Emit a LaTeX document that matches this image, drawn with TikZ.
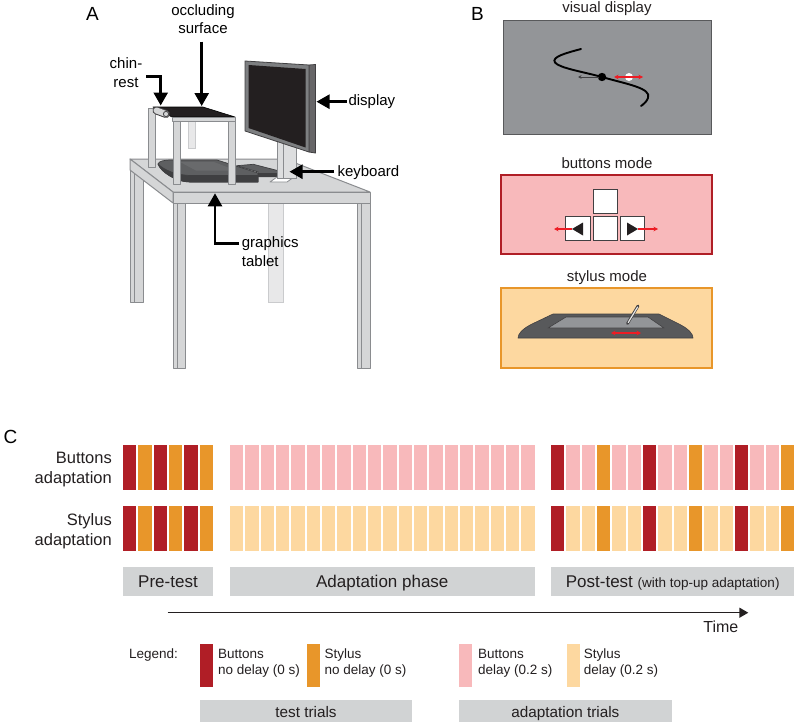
\documentclass[tikz,border=0pt]{standalone}
\usepackage{fontspec}
\setmainfont{Liberation Sans}
\usetikzlibrary{arrows.meta}
\definecolor{txt}{HTML}{231F20}
\definecolor{dred}{HTML}{B01E26}
\definecolor{dorange}{HTML}{E8962A}
\definecolor{lpink}{HTML}{F8B9BB}
\definecolor{lorange}{HTML}{FDD8A0}
\definecolor{phasegray}{HTML}{D1D3D4}
\definecolor{screengray}{HTML}{939598}
\definecolor{tablefill}{HTML}{D5D6D7}
\definecolor{tableline}{HTML}{8A8C8F}
\definecolor{darkgray}{HTML}{58595B}
\definecolor{keyline}{HTML}{414042}
\definecolor{redarrow}{HTML}{ED1C24}
\definecolor{tabtop}{HTML}{5E5F61}
\definecolor{tabfront}{HTML}{3F3F41}
\begin{document}
\begin{tikzpicture}[x=1pt,y=-1pt,
  lab/.style={inner sep=0pt, text=black, font=\fontsize{15}{18}\selectfont},
  pletter/.style={inner sep=0pt, anchor=base, text=black, font=\fontsize{19}{22}\selectfont},
  bigarrow/.style={line width=2.6pt, -{Triangle[length=13pt,width=14pt]}},
  rowlab/.style={inner sep=0pt, anchor=east, align=right, text=txt, font=\fontsize{16.5}{20}\selectfont},
  phasebox/.style={fill=phasegray, inner sep=0pt, minimum height=29pt, text height=12.2pt, text depth=0pt, text=txt, font=\fontsize{17}{20}\selectfont},
  trialbox/.style={fill=phasegray, inner sep=0pt, minimum height=21.7pt, text height=12.5pt, text depth=0pt, text=txt, font=\fontsize{15.3}{18}\selectfont},
  legtxt/.style={inner sep=0pt, anchor=base west, text=txt, font=\fontsize{13.5}{16}\selectfont},
  btitle/.style={inner sep=0pt, anchor=base, text=txt, font=\fontsize{15}{18}\selectfont},
  keybox/.style={draw=keyline, fill=white, line width=0.9pt, minimum size=24.5pt, inner sep=0pt},
  redline/.style={draw=redarrow, line width=1.1pt},
  tbl/.style={fill=tablefill, draw=tableline, line width=1pt, line join=round},
  tblback/.style={fill=tablefill!55!white, draw=tableline!45!white, line width=1pt},
]
\useasboundingbox (0,0) rectangle (797,725);

% ---------------- panel letters ----------------
\node[pletter] (pA) at (92.5,20.7) {A};
\node[pletter] (pB) at (477.5,21) {B};
\node[pletter] (pC) at (10.5,443.5) {C};

% ---------------- panel A: table ----------------
\filldraw[tblback] (268,170) rectangle (283,302);
\filldraw[tbl] (130,167) rectangle (143,302);
\draw[tableline, line width=1pt] (134,170) -- (134,302);
\filldraw[tbl] (130,159) -- (285,159) -- (370,192) -- (173,192) -- cycle;
\filldraw[tbl] (173,192) rectangle (370,203);
\filldraw[tbl] (130,159) -- (173,192) -- (173,203) -- (130,170) -- cycle;
\filldraw[tbl] (173,203) rectangle (185,368);
\draw[tableline, line width=1pt] (177.5,203) -- (177.5,368);
\filldraw[tbl] (357,203) rectangle (370,368);
\draw[tableline, line width=1pt] (361.5,203) -- (361.5,368);

% frame back legs
\filldraw[tbl] (148,108) rectangle (155,167);
\filldraw[tblback] (188,121) rectangle (195,148);

% graphics tablet
\filldraw[fill=tabtop, draw=tabfront, line width=0.7pt, line join=round]
  (158,164) .. controls (159,161) and (164,160) .. (172,160) -- (217,160) -- (258,173) -- (258,182) -- (190,182)
  .. controls (176,182) and (161,172) .. (158,164) -- cycle;
\fill[tabtop!93!white] (180,162) -- (214,162) -- (236,170.5) -- (196,170.5) -- cycle;
\filldraw[fill=tabfront, draw=tabfront, line width=0.7pt, line join=round]
  (158,164) .. controls (164,170) and (176,175.5) .. (192,175.5) -- (258,175.5) -- (258,182) -- (190,182)
  .. controls (176,182) and (161,172) .. (158,164) -- cycle;
% keyboard
\filldraw[fill=tabtop, draw=tabfront, line width=0.7pt, line join=round]
  (236.7,165.7) -- (253.3,164.3) -- (288.3,173.3) -- (288.3,176.7) -- (258.3,176.7) -- (258.3,172) -- cycle;
\fill[tabfront] (258.3,173.3) rectangle (288.3,176.7);

% monitor stand
\filldraw[fill=white, draw=tableline, line width=0.8pt, line join=round] (270,182) -- (277,177) -- (294,177) -- (287,182) -- cycle;
\filldraw[fill=tablefill!80!white, draw=tableline, line width=1pt] (277,138) rectangle (296,178);
\draw[tableline, line width=0.8pt] (283,138) -- (283,178);
% monitor
\filldraw[fill=keyline!80!white, draw=keyline, line width=0.8pt, line join=round] (309,65) -- (315.5,64.5) -- (315.5,153) -- (309,152) -- cycle;
\filldraw[fill=screengray!85!black, draw=keyline, line width=0.8pt, line join=round] (245,61) -- (309,65) -- (309,152) -- (245,131) -- cycle;
\fill[txt] (248.5,65) -- (305.5,69) -- (305.5,147.5) -- (248.5,128) -- cycle;

% frame top and front legs
\filldraw[fill=txt, draw=black, line width=0.6pt, line join=round] (153,107) -- (203,107) -- (235,117) -- (172,117) -- cycle;
\filldraw[tbl] (172,117) rectangle (235,121);
\filldraw[tbl] (173,121) rectangle (180,184);
\filldraw[tbl] (228,121) rectangle (235,184);
% chin rest
\draw[line width=8pt, line cap=round, draw=keyline] (156.5,110.5) -- (166,114);
\draw[line width=6pt, line cap=round, draw=tablefill] (156.5,110.5) -- (166,114);
\draw[keyline, line width=0.8pt] (166,114) circle (2.6pt);

% labels panel A
\node[lab, anchor=base] (occ1) at (203,16) {occluding};
\node[lab, anchor=base] (occ2) at (203,33.5) {surface};
\node[lab, anchor=base] (chin1) at (126,68.5) {chin-};
\node[lab, anchor=base] (chin2) at (126,87) {rest};
\node[lab, anchor=base west] (disp) at (348.3,105.6) {display};
\node[lab, anchor=base west] (kbd) at (337.3,176) {keyboard};
\node[lab, anchor=base west] (gt1) at (241.7,247.7) {graphics};
\node[lab, anchor=base west] (gt2) at (241.7,266) {tablet};

\coordinate (occS) at (201.7,41.7);
\coordinate (occE) at (201.7,106);
\coordinate (chinS) at (146,76.7);
\coordinate (chinE) at (160.7,105.5);
\coordinate (dispS) at (346.7,101.7);
\coordinate (dispE) at (316.5,101.7);
\coordinate (kbdS) at (334,171.7);
\coordinate (kbdE) at (289.5,171.7);
\coordinate (gtS) at (239,243.3);
\coordinate (gtE) at (215,193.3);
\draw[bigarrow] (occS) -- (occE);
\draw[bigarrow] (chinS) -| (chinE);
\draw[bigarrow] (dispS) -- (dispE);
\draw[bigarrow] (kbdS) -- (kbdE);
\draw[bigarrow] (gtS) -| (gtE);

% ---------------- panel B ----------------
\node[btitle] (vdt) at (607,12.5) {visual display};
\node[draw=darkgray, fill=screengray, line width=0.8pt, minimum width=208pt, minimum height=114pt, inner sep=0pt] (vdbox) at (607,77) {};
\draw[line width=1.9pt, line cap=round, black]
  (581,49) .. controls (566,53) and (551,57) .. (555,62.5)
  .. controls (559,68) and (584,72) .. (602,77)
  .. controls (626,84) and (652,88) .. (648,98)
  .. controls (647,101) and (644,104) .. (641,106);
\fill[black] (602,77) circle (4.2pt);
\draw[line width=0.9pt, keyline, -{Stealth[length=3.5pt,width=3.5pt]}] (599,77) -- (578,77);
\fill[white] (629,77) circle (4pt);
\draw[redline, {Stealth[length=4.5pt,width=4.5pt]}-{Stealth[length=4.5pt,width=4.5pt]}] (614,77) -- (643,77);

\node[btitle] (bmt) at (607,168.3) {buttons mode};
\node[draw=dred, fill=lpink, line width=1.3pt, minimum width=211pt, minimum height=79pt, inner sep=0pt] (bmbox) at (606.5,214.5) {};
\node[keybox] (kup) at (605.5,201.5) {};
\node[keybox] (kleft) at (578,228.5) {};
\node[keybox] (kmid) at (605.5,228.5) {};
\node[keybox] (kright) at (632.5,228.5) {};
\fill[txt] (572,229) -- (583,222.5) -- (583,235.5) -- cycle;
\fill[txt] (638,229) -- (627,222.5) -- (627,235.5) -- cycle;
\coordinate (laS) at (572,229);
\coordinate (laE) at (554,229);
\coordinate (raS) at (638,229);
\coordinate (raE) at (658,229);
\draw[redline, -{Stealth[length=4.5pt,width=4.5pt]}] (laS) -- (laE);
\draw[redline, -{Stealth[length=4.5pt,width=4.5pt]}] (raS) -- (raE);

\node[btitle] (smt) at (607,281) {stylus mode};
\node[draw=dorange, fill=lorange, line width=1.3pt, minimum width=211pt, minimum height=80pt, inner sep=0pt] (smbox) at (606.5,328) {};
\filldraw[fill=darkgray, draw=keyline, line width=0.6pt, line join=round]
  (553,314) -- (659,314) -- (679,324) .. controls (689,329) and (693,334) .. (693,338)
  -- (518,338) .. controls (518,334) and (522,329) .. (532,324) -- cycle;
\filldraw[fill=screengray, draw=keyline, line width=0.6pt, line join=round]
  (566,317) -- (648,317) -- (664,328) -- (548,328) -- cycle;
\draw[line width=2.8pt, draw=keyline, line cap=round] (638,306) -- (627.5,323.5);
\draw[line width=1.2pt, draw=white!80!gray, line cap=round] (637.6,307) -- (628.2,322.5);
\coordinate (saS) at (611,333);
\coordinate (saE) at (641,333);
\draw[redline, {Stealth[length=4.5pt,width=4.5pt]}-{Stealth[length=4.5pt,width=4.5pt]}] (saS) -- (saE);

% ---------------- panel C ----------------
\node[rowlab] (rowB) at (112,469.2) {Buttons\\adaptation};
\node[rowlab] (rowS) at (112,530.8) {Stylus\\adaptation};

\foreach \c [count=\i from 0] in {dred,dorange,dred,dorange,dred,dorange} {
  \fill[\c] ({123+15.33*\i},445) rectangle ++(13.33,44.5);
  \fill[\c] ({123+15.33*\i},506) rectangle ++(13.33,44.5);
}
\foreach \i in {0,...,19} {
  \fill[lpink] ({230+15.33*\i},445) rectangle ++(13.33,44.5);
  \fill[lorange] ({230+15.33*\i},506) rectangle ++(13.33,44.5);
}
\foreach \c [count=\i from 0] in {dred,lpink,lpink,dorange,lpink,lpink,dred,lpink,lpink,dorange,lpink,lpink,dred,lpink,lpink,dorange} {
  \fill[\c] ({551+15.33*\i},445) rectangle ++(13.33,44.5);
}
\foreach \c [count=\i from 0] in {dred,lorange,lorange,dorange,lorange,lorange,dred,lorange,lorange,dorange,lorange,lorange,dred,lorange,lorange,dorange} {
  \fill[\c] ({551+15.33*\i},506) rectangle ++(13.33,44.5);
}

\node[phasebox, minimum width=90pt] (pre) at (168,581.5) {Pre-test};
\node[phasebox, minimum width=304.6pt] (adapt) at (382.3,581.5) {Adaptation phase};
\node[phasebox, minimum width=243.3pt] (post) at (672.7,581.5) {Post-test {\fontsize{13.5}{16}\selectfont(with top-up adaptation)}};

\coordinate (tS) at (167.6,612.7);
\coordinate (tE) at (748.3,612.7);
\draw[line width=1.5pt, txt, -{Triangle[length=9pt,width=10pt]}] (tS) -- (tE);
\node[inner sep=0pt, anchor=base, text=txt, font=\fontsize{16}{18}\selectfont] (time) at (720.8,632.7) {Time};

\node[legtxt] (leg) at (128.9,658) {Legend:};
\fill[dred] (200,644) rectangle (213.3,687);
\fill[dorange] (306.7,644) rectangle (320,687);
\fill[lpink] (459.1,644) rectangle (472.4,687);
\fill[lorange] (566.7,644) rectangle (580,687);
\node[legtxt] (l1a) at (217.8,658) {Buttons};
\node[legtxt] (l1b) at (217.8,674.3) {no delay (0 s)};
\node[legtxt] (l2a) at (324.4,658) {Stylus};
\node[legtxt] (l2b) at (324.4,674.3) {no delay (0 s)};
\node[legtxt] (l3a) at (477.8,658) {Buttons};
\node[legtxt] (l3b) at (477.8,674.3) {delay (0.2 s)};
\node[legtxt] (l4a) at (583.6,658) {Stylus};
\node[legtxt] (l4b) at (583.6,674.3) {delay (0.2 s)};

\node[trialbox, minimum width=212pt] (tt) at (306,710.8) {test trials};
\node[trialbox, minimum width=212.6pt] (at) at (565.4,710.8) {adaptation trials};
\end{tikzpicture}
\end{document}
